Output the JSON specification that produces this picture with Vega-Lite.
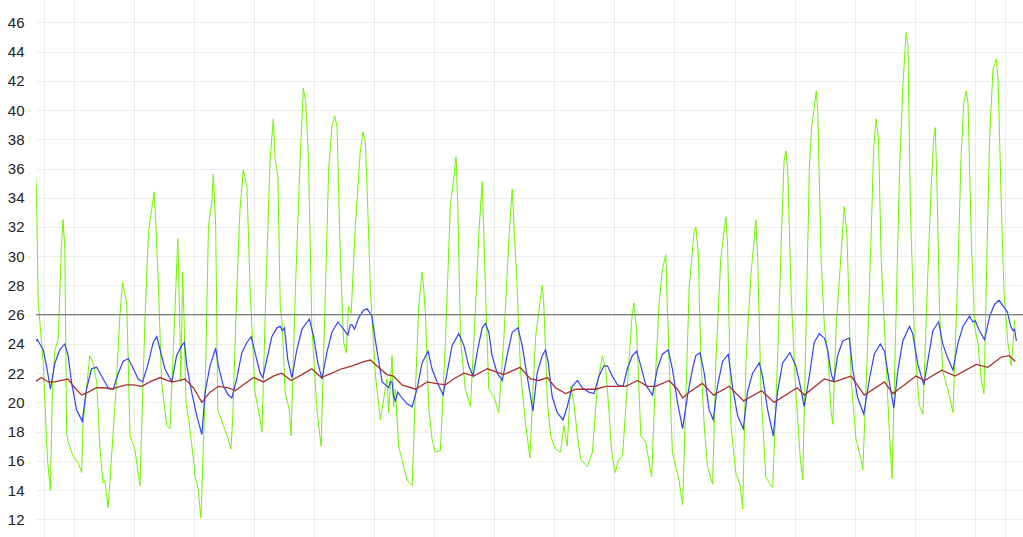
{
"$schema": "https://vega.github.io/schema/vega-lite/v6.json",
"width": 987, "height": 537,
"autosize": {"type": "none"},
"padding": {"left": 36, "top": 0, "right": 0, "bottom": 0},
"background": "white",
"config": {
 "view": {"stroke": null},
 "axisY": {"title": null, "domain": false, "ticks": false, "tickSize": 0, "labelPadding": 12, "labelOverlap": false, "labelFlush": false, "labelFont": "Liberation Sans", "labelFontSize": 15, "labelColor": "#222222", "grid": true, "gridColor": "#ededed", "gridWidth": 1},
 "axisX": {"title": null, "domain": false, "ticks": false, "labels": false, "grid": true, "gridColor": "#ebebeb", "gridWidth": 1}
},
"datasets": {
"green": [
{"d":-0.29,"v":36.4},{"d":-0.23,"v":34.3},{"d":-0.18,"v":27},{"d":-0.01,"v":22.7},{"d":0.10,"v":17.5},{"d":0.14,"v":15.9},{"d":0.23,"v":14.0},{"d":0.30,"v":21.4},{"d":0.38,"v":23.6},{"d":0.49,"v":24.3},{"d":0.60,"v":30.9},{"d":0.65,"v":32.5},{"d":0.71,"v":30.5},{"d":0.77,"v":17.9},{"d":0.82,"v":17.3},{"d":0.99,"v":16.3},{"d":1.15,"v":15.9},{"d":1.27,"v":15.2},{"d":1.31,"v":18.3},{"d":1.54,"v":23.2},{"d":1.65,"v":22.7},{"d":1.77,"v":21.4},{"d":1.88,"v":16.8},{"d":1.98,"v":14.5},{"d":2.04,"v":14.7},{"d":2.15,"v":12.8},{"d":2.43,"v":21.4},{"d":2.54,"v":25.9},{"d":2.63,"v":28.2},{"d":2.77,"v":26.8},{"d":2.88,"v":17.7},{"d":3.04,"v":16.8},{"d":3.21,"v":14.3},{"d":3.38,"v":25.9},{"d":3.49,"v":31.6},{"d":3.60,"v":33.2},{"d":3.68,"v":34.4},{"d":3.74,"v":32.1},{"d":3.82,"v":28.2},{"d":3.93,"v":21.4},{"d":4.10,"v":18.4},{"d":4.21,"v":18.2},{"d":4.32,"v":23.6},{"d":4.47,"v":31.2},{"d":4.52,"v":27},{"d":4.57,"v":21.4},{"d":4.63,"v":28.9},{"d":4.68,"v":25.5},{"d":4.74,"v":20},{"d":4.85,"v":18.6},{"d":4.99,"v":16.1},{"d":5.04,"v":15.0},{"d":5.15,"v":14.0},{"d":5.24,"v":12.1},{"d":5.38,"v":20.7},{"d":5.49,"v":32.1},{"d":5.60,"v":33.7},{"d":5.65,"v":35.6},{"d":5.73,"v":32.1},{"d":5.80,"v":19.5},{"d":5.99,"v":18.4},{"d":6.15,"v":17.5},{"d":6.24,"v":16.8},{"d":6.30,"v":19},{"d":6.43,"v":27.5},{"d":6.54,"v":33.2},{"d":6.65,"v":35.9},{"d":6.77,"v":34.8},{"d":6.88,"v":27.5},{"d":7.04,"v":20.7},{"d":7.21,"v":18.8},{"d":7.27,"v":18},{"d":7.40,"v":27.5},{"d":7.54,"v":36.6},{"d":7.65,"v":39.4},{"d":7.71,"v":36.6},{"d":7.80,"v":35.5},{"d":7.88,"v":26.6},{"d":7.95,"v":25.2},{"d":8.04,"v":20.7},{"d":8.18,"v":19.5},{"d":8.24,"v":17.7},{"d":8.38,"v":27.5},{"d":8.54,"v":36.6},{"d":8.65,"v":41.5},{"d":8.73,"v":40.5},{"d":8.82,"v":36.6},{"d":8.93,"v":25.2},{"d":9.10,"v":19.5},{"d":9.24,"v":17},{"d":9.38,"v":27.5},{"d":9.49,"v":35.9},{"d":9.60,"v":38.9},{"d":9.69,"v":39.6},{"d":9.77,"v":38.9},{"d":9.88,"v":29.8},{"d":9.99,"v":24.1},{"d":10.08,"v":23.4},{"d":10.15,"v":26.6},{"d":10.24,"v":26.1},{"d":10.38,"v":32.1},{"d":10.54,"v":37.1},{"d":10.63,"v":38.5},{"d":10.71,"v":37.8},{"d":10.77,"v":34.6},{"d":10.88,"v":27.7},{"d":11.04,"v":22},{"d":11.21,"v":18.8},{"d":11.32,"v":20.2},{"d":11.43,"v":21.6},{"d":11.49,"v":19.3},{"d":11.60,"v":23.2},{"d":11.65,"v":19.7},{"d":11.71,"v":20.9},{"d":11.82,"v":17},{"d":11.93,"v":16.1},{"d":12.10,"v":14.7},{"d":12.27,"v":14.3},{"d":12.38,"v":20.9},{"d":12.49,"v":26.6},{"d":12.60,"v":28.9},{"d":12.65,"v":27.9},{"d":12.71,"v":26.1},{"d":12.82,"v":19.7},{"d":12.93,"v":17.5},{"d":13.04,"v":16.6},{"d":13.21,"v":16.7},{"d":13.38,"v":24.3},{"d":13.54,"v":33.4},{"d":13.65,"v":35.3},{"d":13.73,"v":36.8},{"d":13.79,"v":33.4},{"d":13.88,"v":24.3},{"d":14.04,"v":20.9},{"d":14.21,"v":19.7},{"d":14.38,"v":26.6},{"d":14.49,"v":31.6},{"d":14.60,"v":35.1},{"d":14.65,"v":31.8},{"d":14.71,"v":27.7},{"d":14.82,"v":20.9},{"d":14.99,"v":20.4},{"d":15.15,"v":19.3},{"d":15.32,"v":24.3},{"d":15.49,"v":31.2},{"d":15.60,"v":34.6},{"d":15.68,"v":31.2},{"d":15.74,"v":28.9},{"d":15.88,"v":22},{"d":16.04,"v":18.6},{"d":16.19,"v":16.2},{"d":16.27,"v":20},{"d":16.38,"v":24.5},{"d":16.52,"v":26.8},{"d":16.60,"v":28},{"d":16.65,"v":26.8},{"d":16.77,"v":20},{"d":16.88,"v":17.7},{"d":17.04,"v":16.8},{"d":17.21,"v":16.6},{"d":17.32,"v":18.4},{"d":17.43,"v":17},{"d":17.54,"v":21.1},{"d":17.65,"v":20},{"d":17.77,"v":17.7},{"d":17.88,"v":16.1},{"d":18.10,"v":15.6},{"d":18.27,"v":16.6},{"d":18.43,"v":21.1},{"d":18.60,"v":23.2},{"d":18.71,"v":22.3},{"d":18.80,"v":20},{"d":18.91,"v":16.6},{"d":19.02,"v":15.2},{"d":19.15,"v":16.1},{"d":19.27,"v":16.3},{"d":19.43,"v":21.1},{"d":19.58,"v":25.7},{"d":19.65,"v":26.8},{"d":19.74,"v":25},{"d":19.88,"v":17.7},{"d":20.04,"v":17.3},{"d":20.24,"v":14.9},{"d":20.38,"v":22.3},{"d":20.49,"v":26.8},{"d":20.60,"v":29.1},{"d":20.71,"v":30.1},{"d":20.77,"v":26.1},{"d":20.93,"v":16.6},{"d":21.15,"v":14.7},{"d":21.27,"v":13},{"d":21.49,"v":27.9},{"d":21.65,"v":31.6},{"d":21.71,"v":32},{"d":21.79,"v":30.3},{"d":21.88,"v":22.9},{"d":21.99,"v":18.4},{"d":22.10,"v":15.6},{"d":22.27,"v":14.4},{"d":22.38,"v":22.9},{"d":22.54,"v":29.8},{"d":22.71,"v":32.7},{"d":22.77,"v":30.7},{"d":22.88,"v":18.4},{"d":23.04,"v":15.2},{"d":23.19,"v":14.3},{"d":23.27,"v":12.7},{"d":23.38,"v":22.9},{"d":23.54,"v":28.6},{"d":23.71,"v":32.5},{"d":23.77,"v":29.8},{"d":23.88,"v":20.7},{"d":24.04,"v":14.9},{"d":24.21,"v":14.3},{"d":24.27,"v":14.2},{"d":24.43,"v":22.9},{"d":24.57,"v":32},{"d":24.65,"v":36.6},{"d":24.71,"v":37.2},{"d":24.77,"v":35.9},{"d":24.88,"v":27.5},{"d":25.04,"v":20.7},{"d":25.19,"v":16.1},{"d":25.27,"v":14.7},{"d":25.38,"v":25.2},{"d":25.49,"v":36.1},{"d":25.57,"v":38.9},{"d":25.65,"v":40.1},{"d":25.72,"v":41.3},{"d":25.77,"v":39.9},{"d":25.88,"v":29.8},{"d":25.99,"v":25.2},{"d":26.10,"v":23.4},{"d":26.21,"v":19.5},{"d":26.27,"v":18.5},{"d":26.38,"v":25.2},{"d":26.54,"v":30},{"d":26.65,"v":33.4},{"d":26.74,"v":31.5},{"d":26.88,"v":21.5},{"d":27.04,"v":17.5},{"d":27.21,"v":16.1},{"d":27.27,"v":15.4},{"d":27.43,"v":24},{"d":27.54,"v":31.1},{"d":27.63,"v":37.4},{"d":27.71,"v":39.4},{"d":27.79,"v":38.1},{"d":27.88,"v":29.9},{"d":28.04,"v":22.8},{"d":28.15,"v":18.1},{"d":28.24,"v":14.8},{"d":28.38,"v":26.4},{"d":28.49,"v":35.8},{"d":28.60,"v":41.6},{"d":28.71,"v":45.3},{"d":28.77,"v":44.5},{"d":28.85,"v":33.4},{"d":28.99,"v":24},{"d":29.15,"v":19.8},{"d":29.27,"v":19.2},{"d":29.43,"v":28.7},{"d":29.54,"v":34.6},{"d":29.63,"v":38.1},{"d":29.68,"v":38.8},{"d":29.74,"v":34.6},{"d":29.82,"v":26.4},{"d":29.93,"v":22.1},{"d":30.10,"v":20.9},{"d":30.27,"v":19.3},{"d":30.43,"v":28.7},{"d":30.54,"v":36.9},{"d":30.63,"v":40.5},{"d":30.71,"v":41.3},{"d":30.77,"v":40.5},{"d":30.88,"v":31.1},{"d":30.99,"v":25.2},{"d":31.10,"v":24},{"d":31.21,"v":21.6},{"d":31.30,"v":20.6},{"d":31.41,"v":31.1},{"d":31.49,"v":38.1},{"d":31.60,"v":42.8},{"d":31.71,"v":43.5},{"d":31.77,"v":42.1},{"d":31.88,"v":33.4},{"d":31.97,"v":27.5},{"d":32.10,"v":24},{"d":32.21,"v":22.5},{"d":32.27,"v":24},{"d":32.32,"v":25.6}
],
"blue": [
{"d":-0.29,"v":24.1},{"d":-0.21,"v":24.3},{"d":-0.01,"v":23.6},{"d":0.10,"v":22.5},{"d":0.23,"v":20.9},{"d":0.38,"v":22.7},{"d":0.54,"v":23.6},{"d":0.71,"v":24},{"d":0.82,"v":23.2},{"d":0.93,"v":21.4},{"d":1.10,"v":19.5},{"d":1.29,"v":18.7},{"d":1.43,"v":20.9},{"d":1.60,"v":22.3},{"d":1.77,"v":22.4},{"d":1.93,"v":21.8},{"d":2.15,"v":21},{"d":2.32,"v":20.9},{"d":2.49,"v":22},{"d":2.65,"v":22.8},{"d":2.82,"v":23},{"d":2.99,"v":22.3},{"d":3.15,"v":21.6},{"d":3.30,"v":21.4},{"d":3.49,"v":22.7},{"d":3.65,"v":24.1},{"d":3.77,"v":24.5},{"d":3.88,"v":23.6},{"d":4.04,"v":22.3},{"d":4.27,"v":21.4},{"d":4.43,"v":23.2},{"d":4.60,"v":23.9},{"d":4.69,"v":24.1},{"d":4.77,"v":22.5},{"d":4.93,"v":20.7},{"d":5.10,"v":19.1},{"d":5.27,"v":17.8},{"d":5.38,"v":20.7},{"d":5.54,"v":22.5},{"d":5.73,"v":23.7},{"d":5.82,"v":22.5},{"d":5.99,"v":21.1},{"d":6.15,"v":20.5},{"d":6.27,"v":20.3},{"d":6.43,"v":21.6},{"d":6.60,"v":23.4},{"d":6.77,"v":24.1},{"d":6.91,"v":24.5},{"d":7.04,"v":23.4},{"d":7.21,"v":22},{"d":7.30,"v":21.7},{"d":7.43,"v":22.9},{"d":7.60,"v":24.5},{"d":7.77,"v":25.1},{"d":7.88,"v":25.2},{"d":7.95,"v":24.9},{"d":8.02,"v":25.1},{"d":8.13,"v":22.9},{"d":8.27,"v":21.7},{"d":8.43,"v":23.6},{"d":8.60,"v":25},{"d":8.77,"v":25.5},{"d":8.85,"v":25.7},{"d":8.99,"v":24.5},{"d":9.13,"v":22.7},{"d":9.27,"v":21.6},{"d":9.43,"v":23.4},{"d":9.60,"v":24.8},{"d":9.80,"v":25.5},{"d":9.99,"v":25},{"d":10.13,"v":24.6},{"d":10.21,"v":25.3},{"d":10.27,"v":25.3},{"d":10.35,"v":25},{"d":10.49,"v":25.8},{"d":10.65,"v":26.3},{"d":10.77,"v":26.4},{"d":10.93,"v":25.9},{"d":11.04,"v":24.3},{"d":11.15,"v":22.9},{"d":11.27,"v":21.4},{"d":11.38,"v":21.2},{"d":11.49,"v":21},{"d":11.54,"v":21.4},{"d":11.60,"v":21.4},{"d":11.65,"v":20.4},{"d":11.71,"v":20.1},{"d":11.79,"v":20.7},{"d":11.93,"v":20.3},{"d":12.10,"v":19.9},{"d":12.27,"v":19.7},{"d":12.43,"v":20.9},{"d":12.60,"v":22.7},{"d":12.80,"v":23.5},{"d":12.93,"v":22.3},{"d":13.10,"v":21.4},{"d":13.30,"v":20.5},{"d":13.43,"v":22},{"d":13.60,"v":23.9},{"d":13.82,"v":24.7},{"d":13.99,"v":23.9},{"d":14.15,"v":22.5},{"d":14.30,"v":21.8},{"d":14.43,"v":23.4},{"d":14.60,"v":25.1},{"d":14.71,"v":25.4},{"d":14.82,"v":24.8},{"d":14.93,"v":23.2},{"d":15.10,"v":22},{"d":15.27,"v":21.5},{"d":15.43,"v":23.2},{"d":15.60,"v":24.8},{"d":15.79,"v":25.1},{"d":15.93,"v":23.9},{"d":16.08,"v":22},{"d":16.21,"v":20.4},{"d":16.29,"v":19.4},{"d":16.43,"v":22},{"d":16.60,"v":23.2},{"d":16.71,"v":23.6},{"d":16.80,"v":22.7},{"d":16.93,"v":20.4},{"d":17.10,"v":19.3},{"d":17.29,"v":18.8},{"d":17.43,"v":19.7},{"d":17.60,"v":21.1},{"d":17.77,"v":21.5},{"d":17.93,"v":21},{"d":18.15,"v":20.7},{"d":18.32,"v":20.6},{"d":18.49,"v":21.8},{"d":18.65,"v":22.5},{"d":18.77,"v":22.5},{"d":18.93,"v":21.8},{"d":19.10,"v":21.2},{"d":19.29,"v":21.1},{"d":19.43,"v":22.3},{"d":19.60,"v":23.2},{"d":19.74,"v":23.5},{"d":19.88,"v":22.5},{"d":20.04,"v":21.2},{"d":20.27,"v":20.5},{"d":20.43,"v":22.3},{"d":20.60,"v":23.3},{"d":20.79,"v":23.6},{"d":20.93,"v":22.3},{"d":21.10,"v":20},{"d":21.27,"v":18.2},{"d":21.43,"v":20.4},{"d":21.60,"v":22.3},{"d":21.71,"v":23.2},{"d":21.85,"v":23.4},{"d":21.99,"v":22},{"d":22.15,"v":19.5},{"d":22.29,"v":18.8},{"d":22.43,"v":21.1},{"d":22.60,"v":22.8},{"d":22.79,"v":23.3},{"d":22.93,"v":21.1},{"d":23.10,"v":19.1},{"d":23.29,"v":18.2},{"d":23.43,"v":20.7},{"d":23.60,"v":22},{"d":23.82,"v":22.7},{"d":23.93,"v":21.8},{"d":24.10,"v":19.5},{"d":24.29,"v":17.7},{"d":24.43,"v":20.7},{"d":24.60,"v":22.7},{"d":24.84,"v":23.4},{"d":25.04,"v":22.5},{"d":25.21,"v":20.9},{"d":25.32,"v":19.7},{"d":25.49,"v":21.8},{"d":25.65,"v":24.1},{"d":25.82,"v":24.7},{"d":25.93,"v":24.5},{"d":25.99,"v":24.4},{"d":26.10,"v":23.6},{"d":26.21,"v":22},{"d":26.30,"v":21.4},{"d":26.43,"v":23.2},{"d":26.60,"v":24.2},{"d":26.82,"v":24.4},{"d":26.93,"v":22.3},{"d":27.10,"v":20.3},{"d":27.30,"v":19.2},{"d":27.49,"v":21.6},{"d":27.65,"v":23.3},{"d":27.85,"v":24},{"d":27.99,"v":23.5},{"d":28.15,"v":21.4},{"d":28.30,"v":19.6},{"d":28.43,"v":22.1},{"d":28.60,"v":24.2},{"d":28.82,"v":25.2},{"d":28.93,"v":24.7},{"d":29.10,"v":22.6},{"d":29.30,"v":21.2},{"d":29.43,"v":22.8},{"d":29.60,"v":24.9},{"d":29.79,"v":25.5},{"d":29.93,"v":24},{"d":30.08,"v":23.1},{"d":30.27,"v":22.2},{"d":30.43,"v":24},{"d":30.60,"v":25.2},{"d":30.82,"v":25.9},{"d":30.93,"v":25.5},{"d":31.01,"v":25.6},{"d":31.15,"v":24.9},{"d":31.32,"v":24.3},{"d":31.49,"v":25.9},{"d":31.65,"v":26.7},{"d":31.80,"v":27},{"d":31.97,"v":26.5},{"d":32.08,"v":26.2},{"d":32.19,"v":25.2},{"d":32.27,"v":24.9},{"d":32.32,"v":25},{"d":32.38,"v":24.2}
],
"brown": [
{"d":-0.29,"v":21.4},{"d":-0.07,"v":21.7},{"d":0.15,"v":21.4},{"d":0.38,"v":21.4},{"d":0.60,"v":21.5},{"d":0.82,"v":21.6},{"d":1.04,"v":21},{"d":1.27,"v":20.5},{"d":1.49,"v":20.7},{"d":1.77,"v":21},{"d":2.04,"v":21},{"d":2.27,"v":20.9},{"d":2.54,"v":21.1},{"d":2.77,"v":21.2},{"d":2.99,"v":21.2},{"d":3.27,"v":21.1},{"d":3.54,"v":21.4},{"d":3.88,"v":21.7},{"d":4.10,"v":21.5},{"d":4.32,"v":21.4},{"d":4.71,"v":21.6},{"d":4.99,"v":21},{"d":5.27,"v":20},{"d":5.54,"v":20.7},{"d":5.82,"v":21.1},{"d":6.15,"v":21},{"d":6.38,"v":20.8},{"d":6.65,"v":21.2},{"d":6.99,"v":21.7},{"d":7.32,"v":21.4},{"d":7.65,"v":21.8},{"d":7.93,"v":22},{"d":8.24,"v":21.5},{"d":8.60,"v":21.9},{"d":8.93,"v":22.3},{"d":9.24,"v":21.7},{"d":9.60,"v":22},{"d":9.93,"v":22.3},{"d":10.27,"v":22.5},{"d":10.69,"v":22.8},{"d":10.88,"v":22.9},{"d":11.15,"v":22.4},{"d":11.43,"v":21.9},{"d":11.65,"v":21.8},{"d":11.93,"v":21.2},{"d":12.38,"v":20.9},{"d":12.77,"v":21.4},{"d":13.04,"v":21.3},{"d":13.38,"v":21.2},{"d":13.65,"v":21.6},{"d":13.99,"v":22},{"d":14.32,"v":21.8},{"d":14.77,"v":22.3},{"d":15.32,"v":21.9},{"d":15.86,"v":22.4},{"d":16.21,"v":21.6},{"d":16.49,"v":21.5},{"d":16.77,"v":21.7},{"d":17.04,"v":21},{"d":17.38,"v":20.6},{"d":17.71,"v":20.9},{"d":18.04,"v":20.9},{"d":18.38,"v":20.9},{"d":18.71,"v":21.1},{"d":19.04,"v":21.1},{"d":19.38,"v":21.1},{"d":19.77,"v":21.5},{"d":20.10,"v":21.1},{"d":20.38,"v":21.1},{"d":20.82,"v":21.5},{"d":21.10,"v":20.9},{"d":21.27,"v":20.3},{"d":21.49,"v":20.7},{"d":21.93,"v":21.3},{"d":22.30,"v":20.5},{"d":22.82,"v":21.1},{"d":23.30,"v":20.1},{"d":23.90,"v":20.8},{"d":24.32,"v":20},{"d":25.08,"v":21},{"d":25.32,"v":20.5},{"d":25.99,"v":21.6},{"d":26.32,"v":21.4},{"d":26.88,"v":21.8},{"d":27.32,"v":20.5},{"d":27.99,"v":21.4},{"d":28.27,"v":20.6},{"d":29.04,"v":21.8},{"d":29.32,"v":21.5},{"d":29.90,"v":22.2},{"d":30.34,"v":21.8},{"d":31.04,"v":22.6},{"d":31.43,"v":22.4},{"d":31.88,"v":23.1},{"d":32.15,"v":23.2},{"d":32.34,"v":22.8}
],
"ref": [{"v": 26}]
},
"layer": [
{"data": {"name": "green"},
 "mark": {"type": "line", "color": "#70f500", "strokeWidth": 1, "clip": true},
 "encoding": {
  "x": {"field": "d", "type": "quantitative", "scale": {"domain": [-0.25, 32.6], "nice": false, "zero": false},
        "axis": {"values": [0,1,3,5,7,9,11,13,15,17,19,21,23,25,27,29,31,32]}},
  "y": {"field": "v", "type": "quantitative", "scale": {"domain": [10.79, 47.53], "nice": false, "zero": false},
        "axis": {"values": [12,14,16,18,20,22,24,26,28,30,32,34,36,38,40,42,44,46], "labelOverlap": false}}
 }},
{"data": {"name": "blue"},
 "mark": {"type": "line", "color": "#3344ee", "strokeWidth": 1.2, "clip": true},
 "encoding": {"x": {"field": "d", "type": "quantitative", "axis": {"values": [0,1,3,5,7,9,11,13,15,17,19,21,23,25,27,29,31,32]}}, "y": {"field": "v", "type": "quantitative", "axis": {"values": [12,14,16,18,20,22,24,26,28,30,32,34,36,38,40,42,44,46], "labelOverlap": false}}}},
{"data": {"name": "brown"},
 "mark": {"type": "line", "color": "#a8302f", "strokeWidth": 1.3, "clip": true},
 "encoding": {"x": {"field": "d", "type": "quantitative", "axis": {"values": [0,1,3,5,7,9,11,13,15,17,19,21,23,25,27,29,31,32]}}, "y": {"field": "v", "type": "quantitative", "axis": {"values": [12,14,16,18,20,22,24,26,28,30,32,34,36,38,40,42,44,46], "labelOverlap": false}}}},
{"data": {"name": "ref"},
 "mark": {"type": "rule", "color": "#7d7d7d", "strokeWidth": 1.3},
 "encoding": {"y": {"field": "v", "type": "quantitative", "axis": {"values": [12,14,16,18,20,22,24,26,28,30,32,34,36,38,40,42,44,46], "labelOverlap": false}}}}
]
}
